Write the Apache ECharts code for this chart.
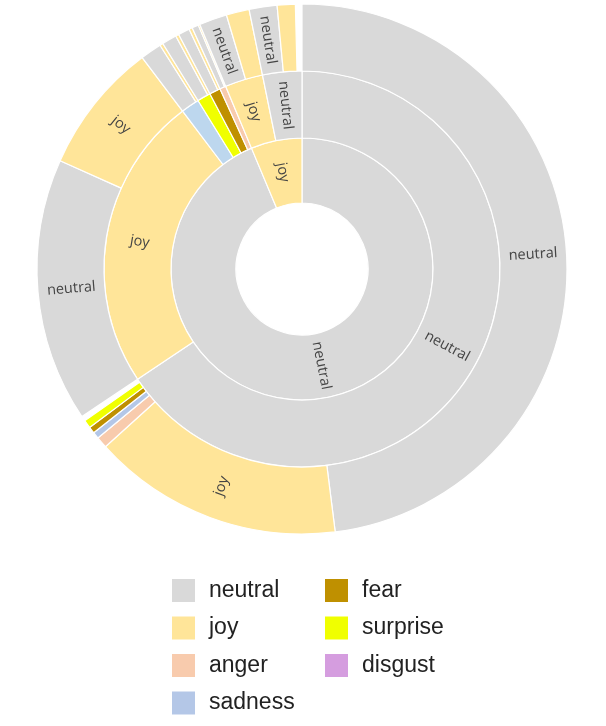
<!DOCTYPE html>
<html>
<head>
<meta charset="utf-8">
<script src="https://cdn.jsdelivr.net/npm/echarts@6/dist/echarts.min.js"></script>
<style>
    html, body { margin: 0; padding: 0; background: #fff; }
    #main { width: 606px; height: 726px; }
</style>
</head>
<body>
<div id="main"></div>
<script>
// categories (legend order)
var emotions = ['neutral', 'joy', 'anger', 'sadness', 'fear', 'surprise', 'disgust']
var emotionColors = ['#d9d9d9', '#ffe599', '#f8cbad', '#b4c7e7', '#bf9000', '#f0ff00', '#d59ddf']

// ring 1 (inner)
var ring1 = ['neutral', 'joy']
var ring1Values = [937, 63]

// ring 2, grouped by ring 1 parent
var ring2 = [
    ['neutral', 'joy', 'sadness', 'surprise', 'fear', 'anger'],
    ['joy', 'neutral']
]
var ring2Values = [
    [656, 241, 15, 11, 9, 5],
    [31, 32]
]

// ring 3 (outer), grouped by ring 2 parent
var ring3 = [
    [['neutral', 'joy', 'anger', 'sadness', 'fear', 'surprise'], ['neutral', 'joy'], ['neutral', 'joy'], ['neutral', 'joy'], ['neutral', 'joy'], ['neutral', 'joy']],
    [['neutral', 'joy'], ['neutral', 'joy']]
]
var ring3Values = [
    [[480, 153, 7, 4, 4, 5], [161, 80], [13, 2], [9, 2], [7, 2], [4, 1]],
    [[17, 14], [17, 11]]
]

function colorOf(name, ring) {
    // the middle ring draws sadness a bit lighter
    if (ring == 2 && name == 'sadness') return '#bdd7ee'
    return emotionColors[emotions.indexOf(name)]
}

function buildTree() {
    return ring1.map(function (n1, i) {
        return {
            name: n1,
            value: ring1Values[i],
            itemStyle: { color: colorOf(n1, 1) },
            children: ring2[i].map(function (n2, j) {
                return {
                    name: n2,
                    value: ring2Values[i][j],
                    itemStyle: { color: colorOf(n2, 2) },
                    children: ring3[i][j].map(function (n3, k) {
                        return {
                            name: n3,
                            value: ring3Values[i][j][k],
                            itemStyle: { color: colorOf(n3, 3) }
                        }
                    })
                }
            })
        }
    })
}

var legendStyle = {
    orient: 'vertical',
    top: 579,
    padding: 0,
    itemWidth: 23,
    itemHeight: 23,
    itemGap: 14.5,
    icon: 'rect',
    selectedMode: false,
    textStyle: {
        fontFamily: 'Liberation Sans',
        fontSize: 23,
        color: '#222',
        padding: [0, 0, 0, 9]
    }
}

var chart = echarts.init(document.getElementById('main'))
var option = {
    backgroundColor: '#fff',
    animation: false,
    legend: [
        Object.assign({ left: 172, data: emotions.slice(0, 4) }, legendStyle),
        Object.assign({ left: 325, data: emotions.slice(4) }, legendStyle)
    ],
    series: [{
        type: 'sunburst',
        center: [302, 269],
        radius: [0, 265],
        startAngle: 90,
        sort: null,
        nodeClick: false,
        data: buildTree(),
        itemStyle: {
            borderColor: '#fff',
            borderWidth: 1.2
        },
        label: {
            rotate: 'radial',
            minAngle: 5.8,
            color: '#444',
            fontFamily: 'Open Sans',
            fontSize: 14.5
        },
        levels: [
            {},
            { r0: 66, r: 131 },
            { r0: 131, r: 198 },
            { r0: 198, r: 265 }
        ]
    }, {
        // only feeds the legend with colours
        type: 'pie',
        radius: [0, 0],
        silent: true,
        label: { show: false },
        labelLine: { show: false },
        data: emotions.map(function (e, i) {
            return { name: e, value: 1, itemStyle: { color: emotionColors[i] } }
        })
    }]
}
chart.setOption(option)
</script>
</body>
</html>
